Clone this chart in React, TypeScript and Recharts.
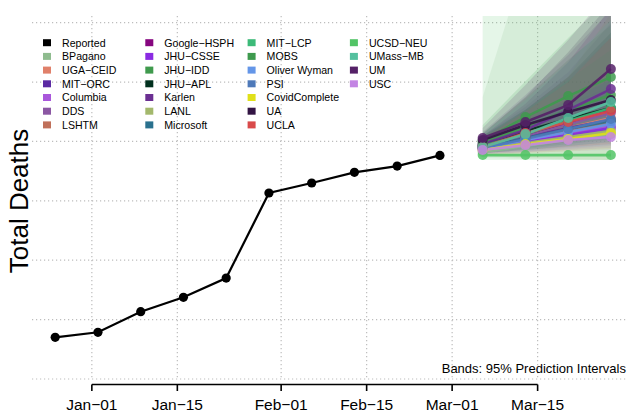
import { ComposedChart, Line, Area, XAxis, YAxis, CartesianGrid, ReferenceLine } from 'recharts'

// reported cumulative deaths (weekly, Saturdays)
const reportedDates = ['2020-12-26', '2021-01-02', '2021-01-09', '2021-01-16', '2021-01-23', '2021-01-30', '2021-02-06', '2021-02-13', '2021-02-20', '2021-02-27']
const reportedDeaths = [9421, 9472, 9680, 9825, 10020, 10879, 10980, 11088, 11151, 11259]

const forecastDates = ['2021-03-06', '2021-03-13', '2021-03-20', '2021-03-27']

const models = ['BPagano', 'UGA−CEID', 'MIT−ORC', 'Columbia', 'DDS', 'LSHTM', 'Google−HSPH', 'JHU−CSSE', 'JHU−IDD', 'JHU−APL', 'Karlen', 'LANL', 'Microsoft', 'MIT−LCP', 'MOBS', 'Oliver Wyman', 'PSI', 'CovidComplete', 'UA', 'UCLA', 'UCSD−NEU', 'UMass−MB', 'UM', 'USC']
const modelColors = ['#8fbc8f', '#e0806a', '#5b2aa3', '#a957db', '#8b57a3', '#c0705a', '#86067f', '#8a2be2', '#3f9a4d', '#01301e', '#6b2f92', '#a3b86c', '#2a718e', '#3cba78', '#3e9a4e', '#6496e8', '#4e79b9', '#e0e01a', '#321443', '#d94a4a', '#52c466', '#54c09e', '#552167', '#c384e3']

// point forecasts, one row per model
const medians = [
    [11293, 11353, 11414, 11474],
    [11333, 11434, 11535, 11636],
    [11353, 11444, 11535, 11616],
    [11323, 11404, 11485, 11555],
    [11343, 11454, 11576, 11687],
    [11333, 11424, 11515, 11606],
    [11353, 11474, 11596, 11717],
    [11323, 11394, 11464, 11535],
    [11384, 11545, 11717, 11868],
    [11363, 11505, 11626, 11737],
    [11374, 11515, 11717, 11929],
    [11323, 11384, 11444, 11505],
    [11343, 11434, 11525, 11606],
    [11353, 11474, 11606, 11737],
    [11404, 11646, 11858, 12050],
    [11333, 11414, 11495, 11576],
    [11333, 11424, 11525, 11626],
    [11313, 11374, 11424, 11485],
    [11414, 11565, 11697, 11818],
    [11343, 11485, 11596, 11707],
    [11262, 11262, 11262, 11262],
    [11343, 11474, 11636, 11798],
    [11434, 11596, 11767, 12131],
    [11313, 11363, 11414, 11444],
]

// 95% interval bounds
const lower = [
    [11232, 11222, 11212, 11212],
    [11282, 11313, 11343, 11373],
    [11292, 11333, 11373, 11414],
    [11272, 11292, 11323, 11353],
    [11282, 11323, 11373, 11434],
    [11282, 11313, 11343, 11373],
    [11292, 11343, 11403, 11464],
    [11272, 11292, 11313, 11333],
    [11292, 11363, 11434, 11515],
    [11302, 11353, 11403, 11454],
    [11292, 11333, 11393, 11474],
    [11252, 11232, 11222, 11212],
    [11282, 11313, 11353, 11393],
    [11282, 11323, 11373, 11424],
    [11313, 11393, 11474, 11555],
    [11282, 11302, 11333, 11363],
    [11282, 11313, 11353, 11393],
    [11262, 11282, 11302, 11323],
    [11313, 11373, 11434, 11494],
    [11292, 11343, 11393, 11444],
    [11212, 11212, 11212, 11212],
    [11282, 11333, 11403, 11474],
    [11333, 11403, 11494, 11636],
    [11262, 11282, 11302, 11313],
]
const upper = [
    [11848, 13211, 14545, 15858],
    [11434, 11720, 12050, 12450],
    [11444, 11636, 11838, 12040],
    [11414, 11595, 11777, 11959],
    [11454, 11750, 12100, 12600],
    [11414, 11575, 11737, 11898],
    [11454, 11780, 12200, 12750],
    [11383, 11515, 11656, 11818],
    [11484, 11838, 12222, 12575],
    [11454, 11720, 12050, 12500],
    [11494, 11868, 12272, 12727],
    [11414, 11700, 12050, 12700],
    [11424, 11616, 11818, 12020],
    [11444, 11717, 12020, 12323],
    [11565, 12009, 12444, 12868],
    [11414, 11575, 11757, 11939],
    [11424, 11605, 11807, 12030],
    [11383, 11494, 11616, 11737],
    [11474, 11850, 12300, 12800],
    [11434, 11700, 12000, 12450],
    [13232, 14040, 14848, 15656],
    [11474, 11818, 12201, 12626],
    [11535, 11969, 12424, 12929],
    [11373, 11474, 11575, 11676],
]

const tickDates = ['2021-01-01', '2021-01-15', '2021-02-01', '2021-02-15', '2021-03-01', '2021-03-15']
const tickLabels = ['Jan−01', 'Jan−15', 'Feb−01', 'Feb−15', 'Mar−01', 'Mar−15']
const gridDeaths = [9000, 9600, 10200, 10800, 11400, 12000, 12600]

const FONT = '"Liberation Sans", Arial, Helvetica, sans-serif'
const dayOf = (d: string) => (Date.parse(d) - Date.parse('2021-01-01')) / 86400000
const tickDays = tickDates.map(dayOf)

const reported = reportedDates.map((d, i) => ({ day: dayOf(d), deaths: reportedDeaths[i] }))
const forecasts = models.map((_, m) =>
    forecastDates.map((d, i) => ({
        day: dayOf(d),
        median: medians[m][i],
        band: [lower[m][i], upper[m][i]],
    }))
)

const legendNames = ['Reported', ...models]
const legendColors = ['#000000', ...modelColors]

const DateTick = (props: any) => {
    const { x, y, payload } = props
    const idx = tickDays.indexOf(payload.value)
    return (
        <g>
            <line x1={x} x2={x} y1={y + 4.5} y2={y + 11} stroke="#000" strokeWidth={1.6} />
            <text x={x} y={y + 30} textAnchor="middle" fontSize={15.5} fontFamily={FONT} fill="#000">
                {tickLabels[idx]}
            </text>
        </g>
    )
}

export default function App() {
    return (
        <div style={{ position: 'absolute', left: 0, top: 0, width: 628, height: 412, background: '#fff', fontFamily: FONT }}>
            <ComposedChart width={628} height={412} margin={{ top: 16, right: 0, left: 32, bottom: 0 }}>
                <CartesianGrid
                    horizontalValues={gridDeaths}
                    verticalValues={tickDays}
                    stroke="#bdbdbd"
                    strokeWidth={1.2}
                    strokeDasharray="1.2 2.8"
                />
                <XAxis
                    dataKey="day"
                    type="number"
                    domain={[-9.8, 87.8]}
                    allowDataOverflow
                    ticks={tickDays}
                    interval={0}
                    height={32}
                    axisLine={false}
                    tickLine={false}
                    tickSize={0}
                    tickMargin={0}
                    tick={<DateTick />}
                />
                <YAxis hide type="number" domain={[8990, 12667]} allowDataOverflow ticks={gridDeaths} />
                <ReferenceLine
                    segment={[{ x: tickDays[0], y: 8945 }, { x: tickDays[tickDays.length - 1], y: 8945 }]}
                    stroke="#000"
                    strokeWidth={1.6}
                    ifOverflow="visible"
                />
                {forecasts.map((f, m) => (
                    <Area
                        key={'band' + m}
                        data={f}
                        dataKey="band"
                        type="linear"
                        stroke="none"
                        fill={modelColors[m]}
                        fillOpacity={0.15}
                        isAnimationActive={false}
                        activeDot={false}
                    />
                ))}
                <Line
                    data={reported}
                    dataKey="deaths"
                    type="linear"
                    stroke="#000"
                    strokeWidth={2.2}
                    dot={{ r: 4.6, fill: '#000', stroke: 'none' }}
                    activeDot={false}
                    isAnimationActive={false}
                />
                {forecasts.map((f, m) => (
                    <Line
                        key={'line' + m}
                        data={f}
                        dataKey="median"
                        type="linear"
                        stroke={modelColors[m]}
                        strokeOpacity={0.9}
                        strokeWidth={2.6}
                        dot={{ r: 5, fill: modelColors[m], fillOpacity: 0.85, stroke: 'none' }}
                        activeDot={false}
                        isAnimationActive={false}
                    />
                ))}
            </ComposedChart>

            <svg width={628} height={412} style={{ position: 'absolute', left: 0, top: 0, pointerEvents: 'none' }}>
                <text
                    transform="translate(27.5,201) rotate(-90)"
                    textAnchor="middle"
                    fontSize={26}
                    fontFamily={FONT}
                    fill="#000"
                >
                    Total Deaths
                </text>
                <text x={626} y={373} textAnchor="end" fontSize={13} fontFamily={FONT} fill="#000">
                    Bands: 95% Prediction Intervals
                </text>
                {legendNames.map((name, i) => {
                    const col = Math.floor(i / 7)
                    const row = i % 7
                    const cx = 43 + col * 102.3
                    const cy = 42.7 + row * 13.7
                    return (
                        <g key={name}>
                            <rect x={cx} y={cy - 3.5} width={8} height={7} fill={legendColors[i]} />
                            <text x={cx + 19} y={cy + 3.8} fontSize={10.6} fontFamily={FONT} fill="#000">
                                {name}
                            </text>
                        </g>
                    )
                })}
            </svg>
        </div>
    )
}
